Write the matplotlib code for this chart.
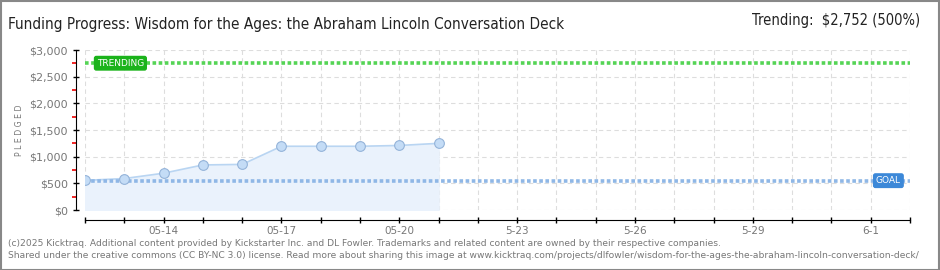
import numpy as np
import matplotlib
matplotlib.use('Agg')
import matplotlib.pyplot as plt
from matplotlib.patches import Rectangle

# data
days = [0, 1, 2, 3, 4, 5, 6, 7, 8, 9]
pledged = [555, 590, 690, 845, 855, 1195, 1195, 1195, 1210, 1250]
goal = 550
trending = 2752
tick_days = [2, 5, 8, 11, 14, 17, 20]
tick_names = ['05-14', '05-17', '05-20', '5-23', '5-26', '5-29', '6-1']
y_ticks = [0, 500, 1000, 1500, 2000, 2500, 3000]
y_names = ['$0', '$500', '$1,000', '$1,500', '$2,000', '$2,500', '$3,000']

plt.rcParams['font.family'] = ['DejaVu Sans']
W, H = 940, 270
fig = plt.figure(figsize=(W / 100, H / 100), dpi=100)
ax = fig.add_axes([85 / W, (H - 210) / H, 825 / W, 160 / H])

ax.set_xlim(0, 21)
ax.set_ylim(0, 3000)

# grid
for d in range(22):
    ax.axvline(d, color='#dddddd', lw=0.8, ls=(0, (4, 3)), zorder=0)
for v in y_ticks:
    ax.axhline(v, color='#dddddd', lw=0.8, ls=(0, (4, 3)), zorder=0)

# pledged series
ax.fill_between(days, pledged, 0, color='#eaf2fc', zorder=1)
ax.plot(days, pledged, color='#b9d5f2', lw=1.2, zorder=2)
ax.plot(days, pledged, 'o', ms=7, mfc='#c4dcf6', mec='#94b3d9', mew=0.8, zorder=5)

# goal and trending lines
ax.axhline(goal, color='#8fb7e6', lw=2.6, ls=(0, (1, 0.7)), zorder=3)
ax.axhline(trending, color='#55d455', lw=2.6, ls=(0, (1, 0.7)), zorder=3)
ax.text(0.3, trending, 'TRENDING', color='white', fontsize=6.5, va='center', ha='left',
        zorder=6, bbox=dict(boxstyle='round,pad=0.25,rounding_size=0.2', fc='#1bb31b', ec='#1bb31b'))
ax.text(20.45, goal, 'GOAL', color='white', fontsize=6.5, va='center', ha='center',
        zorder=6, bbox=dict(boxstyle='round,pad=0.25,rounding_size=0.2', fc='#3c88d8', ec='#3c88d8'))

# axes styling
for s in ['top', 'right']:
    ax.spines[s].set_visible(False)
ax.spines['left'].set_position(('outward', 6.5))
ax.spines['bottom'].set_position(('outward', 7.2))
ax.spines['left'].set_bounds(0, 3000)
ax.spines['bottom'].set_bounds(0, 21)

ax.set_yticks(y_ticks)
ax.set_yticklabels(y_names)
ax.set_yticks([250, 750, 1250, 1750, 2250, 2750], minor=True)
ax.tick_params(axis='y', which='major', direction='inout', length=4, width=1,
               labelsize=8, labelcolor='#777777', pad=4)
ax.tick_params(axis='y', which='minor', direction='out', length=3, width=1.2, colors='#ee0000')

ax.set_xticks(range(22))
ax.set_xticklabels([tick_names[tick_days.index(d)] if d in tick_days else '' for d in range(22)])
ax.tick_params(axis='x', direction='inout', length=4, width=1,
               labelsize=7.5, labelcolor='#777777', pad=2)

ax.set_ylabel('P L E D G E D', fontsize=5.6, color='#777777')
ax.yaxis.set_label_coords(-61 / 825, 0.5)

# header and footer
fig.text(8 / W, 1 - 24 / H, 'Funding Progress: Wisdom for the Ages: the Abraham Lincoln Conversation Deck',
         fontsize=11, color='#222222', va='center', ha='left', fontstretch='condensed')
fig.text(920 / W, 1 - 21 / H, 'Trending:  $2,752 (500%)', fontsize=10.5, color='#222222',
         va='center', ha='right', fontstretch='condensed')
fig.text(8 / W, 1 - 243 / H,
         '(c)2025 Kicktraq. Additional content provided by Kickstarter Inc. and DL Fowler. Trademarks and related content are owned by their respective companies.',
         fontsize=6.6, color='#777777', va='center', ha='left')
fig.text(8 / W, 1 - 256 / H,
         'Shared under the creative commons (CC BY-NC 3.0) license. Read more about sharing this image at www.kicktraq.com/projects/dlfowler/wisdom-for-the-ages-the-abraham-lincoln-conversation-deck/',
         fontsize=6.6, color='#777777', va='center', ha='left')

fig.patches.append(Rectangle((0.5 / W, 0.5 / H), 1 - 1.5 / W, 1 - 1.5 / H, transform=fig.transFigure,
                             fill=False, ec='#888888', lw=1.5))

fig.savefig('out.png', dpi=100)
